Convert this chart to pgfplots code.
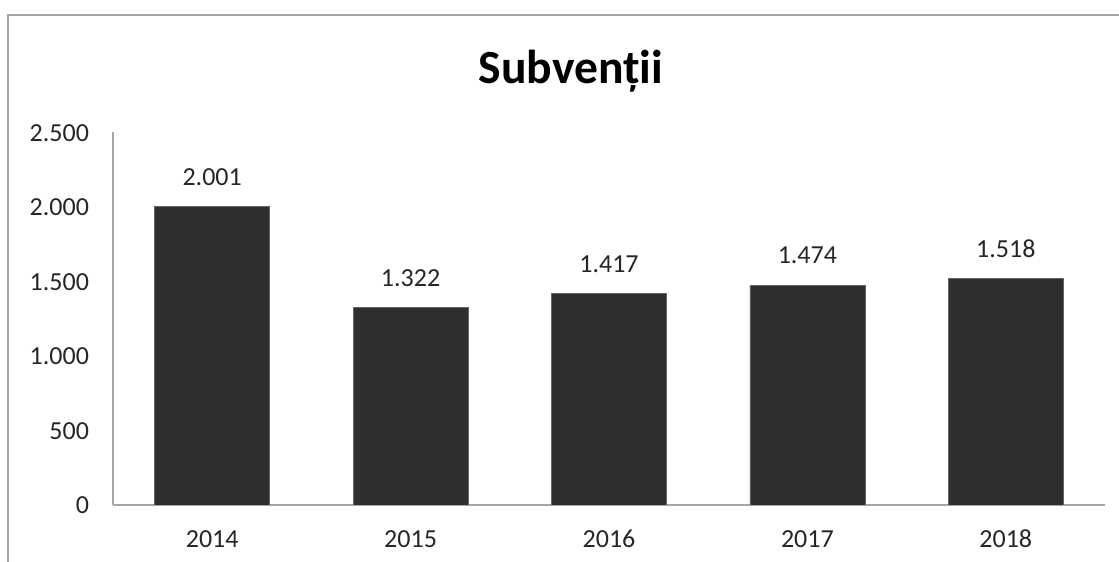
\documentclass[border=0pt]{standalone}
\usepackage{pgfplots}
\pgfplotsset{compat=1.18}
\usepackage{fontspec}
\setmainfont{Carlito}
\begin{document}
\begin{tikzpicture}
\useasboundingbox (0,0) rectangle (559.5pt,281pt);
\draw[gray!70, line width=0.8pt] (4pt,-10pt) -- (4pt,273.5pt) -- (570pt,273.5pt);
\node[font=\fontsize{23.8}{28}\selectfont\bfseries] at (285.5pt,245.5pt) {Subvenții};
\begin{axis}[
  at={(56.5pt,28.5pt)}, anchor=south west,
  scale only axis, width=496pt, height=186.5pt,
  xmin=-0.5, xmax=4.5, ymin=0, ymax=2500,
  ytick={0,500,1000,1500,2000,2500},
  xtick=data, xticklabels={2014,2015,2016,2017,2018},
  axis x line=bottom, axis y line=left,
  axis line style={-, gray!70, line width=0.6pt},
  major tick length=0pt,
  ytick style={draw=none}, xtick style={draw=none},
  /pgf/number format/assume math mode=true,
  /pgf/number format/1000 sep={.},
  tick label style={font=\fontsize{13}{15}\selectfont, text=black!85, text height=9pt, text depth=0pt},
  yticklabel style={xshift=-8.5pt},
  xticklabel style={yshift=-8.5pt},
  ybar, bar width=57.5pt,
  nodes near coords,
  nodes near coords style={font=\fontsize{13}{15}\selectfont, text=black!85, yshift=7pt, /pgf/number format/1000 sep={.}},
]
\addplot[fill=black!82, draw=black!60] coordinates {(0,2001) (1,1322) (2,1417) (3,1474) (4,1518)};
\end{axis}
\end{tikzpicture}
\end{document}
